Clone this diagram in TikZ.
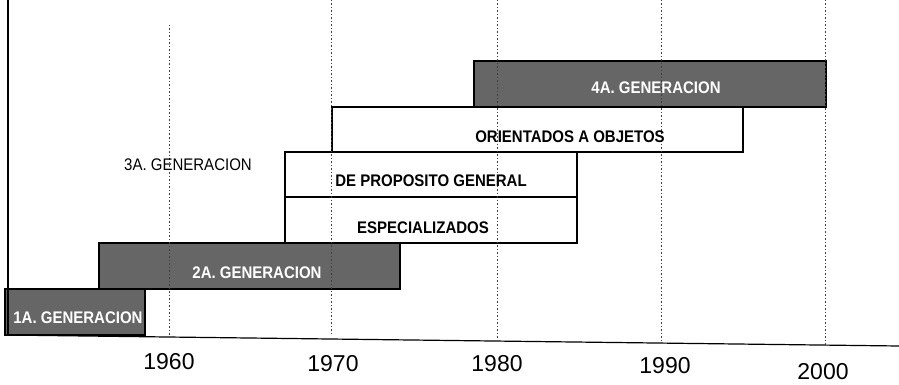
\documentclass[tikz,border=0pt]{standalone}
\usepackage{fontspec}
\setmainfont{Liberation Sans}
\newcommand{\tall}[1]{\scalebox{1}[1.12]{#1}}
\begin{document}
\begin{tikzpicture}[x=1pt,y=-1pt,
  genbox/.style={draw=black, line width=1.2pt, fill=black!60, inner sep=0pt, outer sep=0pt, anchor=north west},
  whitebox/.style={draw=black, line width=1.1pt, fill=white, inner sep=0pt, outer sep=0pt, anchor=north west},
  gentext/.style={text=white, font=\bfseries\fontsize{15}{18}\selectfont, inner sep=0pt},
  boxtext/.style={text=black, font=\bfseries\fontsize{15}{18}\selectfont, inner sep=0pt},
  plaintext/.style={text=black, font=\fontsize{15}{18}\selectfont, inner sep=0pt},
  yearlabel/.style={text=black, font=\fontsize{23}{27}\selectfont, inner sep=0pt},
  gridl/.style={black!75, line width=0.8pt, dash pattern=on 1.5pt off 2pt},
  axisl/.style={black, line width=1.2pt}]
\useasboundingbox (0,0) rectangle (899,385);
\fill[white] (0,0) rectangle (899,385);
% white boxes
\node[whitebox, minimum width=411pt, minimum height=45pt] (ori) at (332,107) {};
\node[whitebox, minimum width=292pt, minimum height=45pt] (prop) at (285,152) {};
\node[whitebox, minimum width=292pt, minimum height=46pt] (esp) at (285,197) {};
% gray boxes
\node[genbox, minimum width=352pt, minimum height=46pt] (g4) at (474,61) {};
\node[genbox, minimum width=301pt, minimum height=46pt] (g2) at (99,243) {};
\node[genbox, minimum width=140pt, minimum height=46pt] (g1) at (5,289) {};
% axes
\coordinate (ytop) at (8,0);
\coordinate (orig) at (8,336);
\coordinate (xend) at (899,346);
\draw[axisl] (ytop) -- (orig);
\draw[axisl] (5,335) -- (xend);
% grid lines
\coordinate (a60) at (169,25);  \coordinate (b60) at (169,335);
\coordinate (a70) at (331,0);   \coordinate (b70) at (331,335);
\coordinate (a80) at (497,0);   \coordinate (b80) at (497,338);
\coordinate (a90) at (661,0);   \coordinate (b90) at (661,342);
\coordinate (a00) at (825,0);   \coordinate (b00) at (825,345);
\draw[gridl] (a60) -- (b60);
\draw[gridl] (a70) -- (b70);
\draw[gridl] (a80) -- (b80);
\draw[gridl] (a90) -- (b90);
\draw[gridl] (a00) -- (b00);
% labels
\node[gentext] (t4) at (656,88) {\tall{4A. GENERACION}};
\node[boxtext] (tori) at (570,137) {\tall{ORIENTADOS A OBJETOS}};
\node[boxtext] (tprop) at (431,181) {\tall{DE PROPOSITO GENERAL}};
\node[boxtext] (tesp) at (423,228) {\tall{ESPECIALIZADOS}};
\node[gentext] (t2) at (257,273) {\tall{2A. GENERACION}};
\node[gentext] (t1) at (78,318) {\tall{1A. GENERACION}};
\node[plaintext] (t3) at (188,165) {\tall{3A. GENERACION}};
% years
\node[yearlabel] (y60) at (169,362) {1960};
\node[yearlabel] (y70) at (333,364) {1970};
\node[yearlabel] (y80) at (497,364) {1980};
\node[yearlabel] (y90) at (665,366) {1990};
\node[yearlabel] (y00) at (823,372) {2000};
\end{tikzpicture}
\end{document}
